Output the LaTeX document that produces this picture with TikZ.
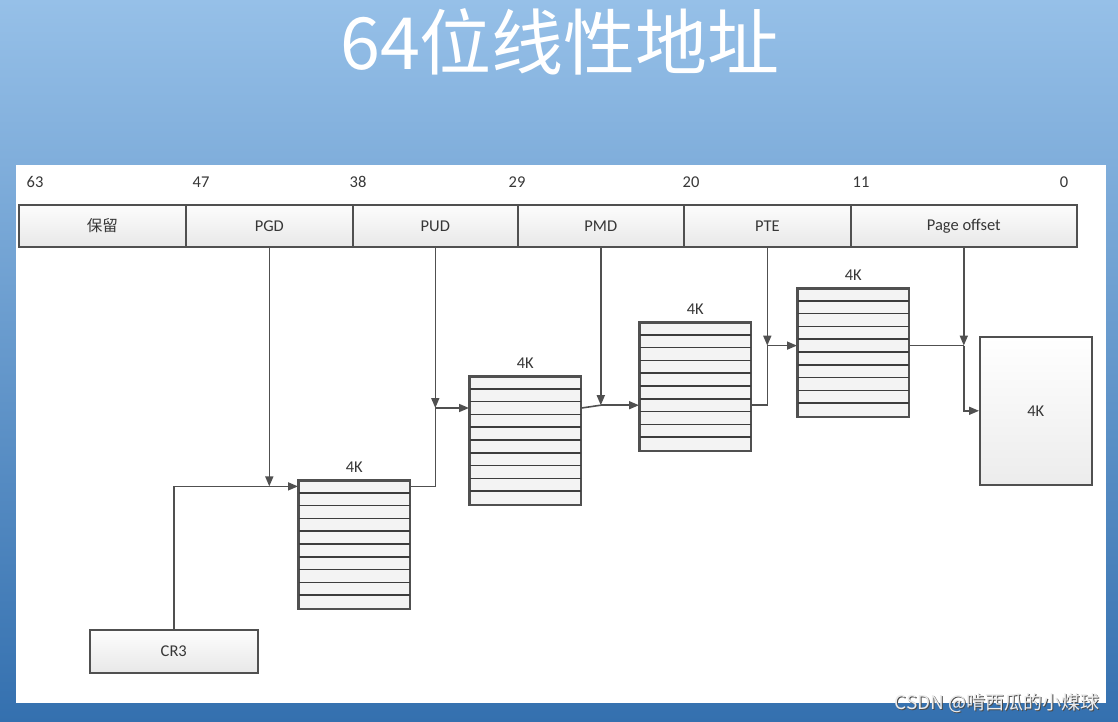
\documentclass[tikz,border=0pt]{standalone}
\usepackage{fontspec}
\setmainfont{Carlito}
\newfontfamily\cjk{Noto Sans CJK SC}
\usetikzlibrary{arrows.meta,calc}

\definecolor{bgtop}{RGB}{150,192,232}
\definecolor{bgbot}{RGB}{52,112,175}
\definecolor{ln}{RGB}{80,80,80}
\definecolor{rowln}{RGB}{60,60,60}
\definecolor{txt}{RGB}{55,55,55}
\definecolor{cellhi}{RGB}{253,253,253}
\definecolor{celllo}{RGB}{232,232,232}
\definecolor{pagelo}{RGB}{236,236,236}
\definecolor{rowfill}{RGB}{243,243,243}

\begin{document}
\begin{tikzpicture}[x=1pt,y=-1pt,
  lbl/.style={font=\fontsize{16.5}{16.5}\selectfont, text=txt, inner sep=0pt},
  cell/.style={draw=ln, line width=1.6pt, top color=cellhi, bottom color=celllo,
    minimum height=42pt, inner sep=0pt, anchor=north west,
    font=\fontsize{16.5}{16.5}\selectfont, text=txt},
  tbl/.style={draw=ln, line width=1.6pt, fill=rowfill, minimum width=111pt,
    minimum height=128pt, inner sep=0pt, anchor=north west},
  rowline/.style={draw=rowln, line width=1.5pt},
  conn/.style={draw=ln, line width=1.6pt},
  arr/.style={draw=ln, line width=1.6pt, -{Triangle[length=10pt,width=8pt]}},
]
\useasboundingbox (0,0) rectangle (1118,722);
% background
\shade[top color=bgtop, bottom color=bgbot] (0,0) rectangle (1118,722);
\fill[white] (16,165) rectangle (1106,703);

% title
\node[font=\cjk\fontsize{72}{72}\selectfont, text=white, anchor=base, inner sep=0pt] (title) at (560,70) {64位线性地址};

% bit numbers
\node[lbl] (b63) at (35,182) {63};
\node[lbl] (b47) at (201,182) {47};
\node[lbl] (b38) at (358,182) {38};
\node[lbl] (b29) at (517,182) {29};
\node[lbl] (b20) at (691,182) {20};
\node[lbl] (b11) at (861,182) {11};
\node[lbl] (b0)  at (1064,182) {0};

% address fields
\node[cell, minimum width=167pt] (res) at (18,204) {\cjk\fontsize{15.5}{15.5}\selectfont 保留};
\node[cell, minimum width=167pt] (pgd) at (185,204) {PGD};
\node[cell, minimum width=165pt] (pud) at (352,204) {PUD};
\node[cell, minimum width=166pt] (pmd) at (517,204) {PMD};
\node[cell, minimum width=167pt] (pte) at (683,204) {PTE};
\node[cell, minimum width=226pt] (off) at (850,204) {Page offset};

% CR3
\node[cell, minimum width=168pt, minimum height=43pt] (cr3) at (89,629) {CR3};

% tables
\node[tbl] (t1) at (298,480) {};
\node[tbl] (t2) at (469,376) {};
\node[tbl] (t3) at (639,322) {};
\node[tbl] (t4) at (797,288) {};
\foreach \t in {t1,t2,t3,t4}{
  \foreach \i in {1,...,9}{
    \draw[rowline] ($(\t.north west)+(0,\i*12.8)$) -- ($(\t.north east)+(0,\i*12.8)$);
  }
  \draw[draw=ln, line width=1.6pt] (\t.north west) rectangle (\t.south east);
}
\node[lbl] (k1) at ($(t1.north)+(0,-13)$) {4K};
\node[lbl] (k2) at ($(t2.north)+(0,-13)$) {4K};
\node[lbl] (k3) at ($(t3.north)+(0,-13)$) {4K};
\node[lbl] (k4) at ($(t4.north)+(0,-13)$) {4K};

% final page
\node[cell, minimum width=112pt, minimum height=148pt, top color=white, bottom color=pagelo] (page) at (979,336) {4K};

% row coordinates
\coordinate (t1w) at ($(t1.north west)+(0,6.4)$);
\coordinate (t1e) at ($(t1.north east)+(0,6.4)$);
\coordinate (t2w) at ($(t2.north west)+(0,32)$);
\coordinate (t2e) at ($(t2.north east)+(0,32)$);
\coordinate (t3w) at ($(t3.north west)+(0,83.2)$);
\coordinate (t3e) at ($(t3.north east)+(0,83.2)$);
\coordinate (t4w) at ($(t4.north west)+(0,57.6)$);
\coordinate (t4e) at ($(t4.north east)+(0,57.6)$);

% connectors
\draw[arr] (cr3.north) |- (t1w);
\draw[arr] (pgd.south) -- (pgd.south |- t1w);

\draw[conn] (t1e) -| (pud.south |- t2w);
\draw[arr] (pud.south) -- (pud.south |- t2w);
\draw[arr] (pud.south |- t2w) -- (t2w);

\draw[conn] (t2e) -- (pmd.south |- t3w);
\draw[arr] (pmd.south) -- (pmd.south |- t3w);
\draw[arr] (pmd.south |- t3w) -- (t3w);

\draw[conn] (t3e) -| (pte.south |- t4w);
\draw[arr] (pte.south) -- (pte.south |- t4w);
\draw[arr] (pte.south |- t4w) -- (t4w);

\draw[conn] (t4e) -- (off.south |- t4e);
\draw[arr] (off.south) -- (off.south |- t4e);
\draw[arr] (off.south |- t4e) |- (page.west);

% watermark
\node[font=\cjk\fontsize{19}{19}\selectfont, text=black!70, inner sep=0pt] (wmshadow) at (998,704) {CSDN @啃西瓜的小煤球};
\node[font=\cjk\fontsize{19}{19}\selectfont, text=white!92!black, inner sep=0pt] (wm) at (997,703) {CSDN @啃西瓜的小煤球};
\end{tikzpicture}
\end{document}
